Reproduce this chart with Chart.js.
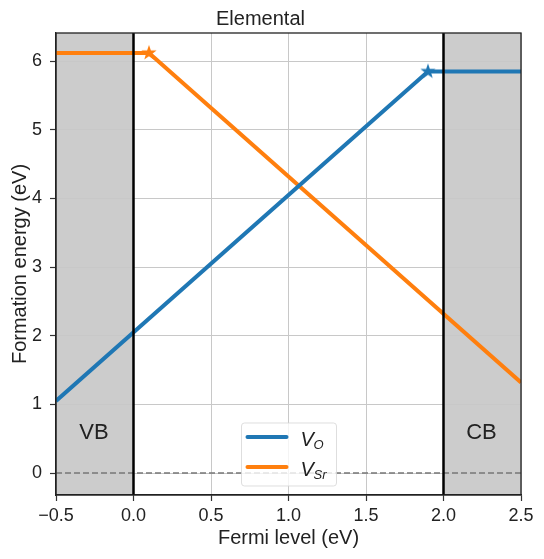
<!DOCTYPE html>
<html>
<head>
<meta charset="utf-8">
<script src="https://cdn.jsdelivr.net/npm/chart.js@4.4.0/dist/chart.umd.min.js"></script>
<style>
  html, body { margin: 0; padding: 0; background: #fff; }
  #wrap { width: 544px; height: 559px; }
</style>
</head>
<body>
<div id="wrap"><canvas id="myChart" width="544" height="559"></canvas></div>
<script>
// valores
const vOx = [-0.5, 1.9, 2.5]
const vOy = [1.05, 5.85, 5.85]
const vSrX = [-0.5, 0.1, 2.5]
const vSrY = [6.12, 6.12, 1.32]
const xTicks = [-0.5, 0.0, 0.5, 1.0, 1.5, 2.0, 2.5]
const yTicks = [0, 1, 2, 3, 4, 5, 6]
const bandEdges = [0.0, 2.0]
const bandLabels = ["VB", "CB"]

const azul = "#1f77b4"
const naranja = "#ff7f0e"
const fuente = "'Liberation Sans', Arial, sans-serif"

function hacerEstrella(color, r) {
    const c = document.createElement("canvas")
    c.width = r * 2 + 2
    c.height = r * 2 + 2
    const ctx = c.getContext("2d")
    ctx.fillStyle = color
    ctx.beginPath()
    for (let i = 0; i < 10; i++) {
        const rad = i % 2 == 0 ? r : r * 0.4
        const a = -Math.PI / 2 + i * Math.PI / 5
        const px = r + 1 + rad * Math.cos(a)
        const py = r + 1 + rad * Math.sin(a)
        if (i == 0) ctx.moveTo(px, py)
        else ctx.lineTo(px, py)
    }
    ctx.closePath()
    ctx.fill()
    return c
}

const estrellaAzul = hacerEstrella(azul, 8)
const estrellaNaranja = hacerEstrella(naranja, 8)

function puntos(xs, ys) {
    return xs.map((x, i) => ({ x: x, y: ys[i] }))
}

const sombreado = {
    id: "sombreado",
    beforeDraw(chart) {
        const { ctx, chartArea, scales } = chart
        const x = scales.x
        ctx.save()
        ctx.fillStyle = "#cccccc"
        const x0 = x.getPixelForValue(bandEdges[0])
        const x1 = x.getPixelForValue(bandEdges[1])
        ctx.fillRect(chartArea.left, chartArea.top, x0 - chartArea.left, chartArea.bottom - chartArea.top)
        ctx.fillRect(x1, chartArea.top, chartArea.right - x1, chartArea.bottom - chartArea.top)
        ctx.restore()
    },
    beforeDatasetsDraw(chart) {
        const { ctx, chartArea, scales } = chart
        const y0 = scales.y.getPixelForValue(0)
        ctx.save()
        ctx.strokeStyle = "#777777"
        ctx.lineWidth = 1.5
        ctx.setLineDash([6, 3])
        ctx.beginPath()
        ctx.moveTo(chartArea.left, y0)
        ctx.lineTo(chartArea.right, y0)
        ctx.stroke()
        ctx.restore()
    },
    afterDatasetsDraw(chart) {
        const { ctx, chartArea, scales } = chart
        ctx.save()
        ctx.strokeStyle = "#000"
        ctx.lineWidth = 2.5
        bandEdges.forEach((v) => {
            const px = scales.x.getPixelForValue(v)
            ctx.beginPath()
            ctx.moveTo(px, chartArea.top)
            ctx.lineTo(px, chartArea.bottom)
            ctx.stroke()
        })
        // marco completo
        ctx.strokeStyle = "#222"
        ctx.lineWidth = 1.3
        ctx.strokeRect(chartArea.left, chartArea.top, chartArea.right - chartArea.left, chartArea.bottom - chartArea.top)

        ctx.fillStyle = "#222"
        ctx.font = "22px " + fuente
        ctx.textAlign = "center"
        ctx.textBaseline = "middle"
        ctx.fillText(bandLabels[0], scales.x.getPixelForValue(-0.255), scales.y.getPixelForValue(0.58))
        ctx.fillText(bandLabels[1], scales.x.getPixelForValue(2.245), scales.y.getPixelForValue(0.58))

        // leyenda con subindices
        const cx = (chartArea.left + chartArea.right) / 2
        const bx = cx - 47, by = 423, bw = 95, bh = 63
        ctx.globalAlpha = 0.8
        ctx.fillStyle = "#fff"
        ctx.strokeStyle = "#d6d6d6"
        ctx.lineWidth = 1
        ctx.beginPath()
        ctx.roundRect(bx, by, bw, bh, 3)
        ctx.fill()
        ctx.stroke()
        ctx.globalAlpha = 1
        const filas = [
            { color: azul, sub: "O", y: by + 14 },
            { color: naranja, sub: "Sr", y: by + 44 }
        ]
        filas.forEach((f) => {
            ctx.strokeStyle = f.color
            ctx.lineWidth = 4
            ctx.lineCap = "round"
            ctx.beginPath()
            ctx.moveTo(bx + 6, f.y)
            ctx.lineTo(bx + 45, f.y)
            ctx.stroke()
            ctx.fillStyle = "#222"
            ctx.textAlign = "left"
            ctx.textBaseline = "alphabetic"
            ctx.font = "italic 20px " + fuente
            ctx.fillText("V", bx + 59, f.y + 9)
            ctx.font = "italic 13px " + fuente
            ctx.fillText(f.sub, bx + 72, f.y + 12)
        })
        ctx.restore()
    }
}

const config = {
    type: "line",
    data: {
        datasets: [
            {
                label: "V_O",
                data: puntos(vOx, vOy),
                borderColor: azul,
                backgroundColor: azul,
                borderWidth: 4,
                pointStyle: [false, estrellaAzul, false],
                pointRadius: [0, 8, 0],
                tension: 0
            },
            {
                label: "V_Sr",
                data: puntos(vSrX, vSrY),
                borderColor: naranja,
                backgroundColor: naranja,
                borderWidth: 4,
                pointStyle: [false, estrellaNaranja, false],
                pointRadius: [0, 8, 0],
                tension: 0
            }
        ]
    },
    options: {
        responsive: false,
        animation: false,
        layout: { padding: { left: 0, right: 23, top: 0, bottom: 0 } },
        plugins: {
            legend: { display: false },
            tooltip: { enabled: false },
            title: {
                display: true,
                text: "Elemental",
                color: "#222",
                font: { family: fuente, size: 20, weight: "normal" },
                padding: { top: 7, bottom: 2 }
            }
        },
        scales: {
            x: {
                type: "linear",
                min: -0.5,
                max: 2.5,
                afterBuildTicks: (scale) => { scale.ticks = xTicks.map((v) => ({ value: v })) },
                afterFit: (scale) => { scale.height = 64 },
                ticks: {
                    color: "#222",
                    font: { family: fuente, size: 18 },
                    padding: 4,
                    maxRotation: 0,
                    callback: (v) => (v < 0 ? "\u2212" : "") + Math.abs(v).toFixed(1)
                },
                grid: { color: "#c8c8c8", lineWidth: 1, tickLength: 6, tickColor: "#333", tickWidth: 1.2 },
                border: { color: "#222", width: 1.3 },
                title: {
                    display: true,
                    text: "Fermi level (eV)",
                    color: "#222",
                    font: { family: fuente, size: 20 },
                    padding: { top: 2, bottom: 9 }
                }
            },
            y: {
                min: -0.32,
                max: 6.41,
                afterBuildTicks: (scale) => { scale.ticks = yTicks.map((v) => ({ value: v })) },
                afterFit: (scale) => { scale.width = 56 },
                ticks: {
                    color: "#222",
                    font: { family: fuente, size: 18 },
                    padding: 8
                },
                grid: { color: "#c8c8c8", lineWidth: 1, tickLength: 6, tickColor: "#333", tickWidth: 1.2 },
                border: { color: "#222", width: 1.3 },
                title: {
                    display: true,
                    text: "Formation energy (eV)",
                    color: "#222",
                    font: { family: fuente, size: 20 },
                    padding: { top: 8, bottom: 2 }
                }
            }
        }
    },
    plugins: [sombreado]
}

new Chart(document.getElementById("myChart"), config)
</script>
</body>
</html>
